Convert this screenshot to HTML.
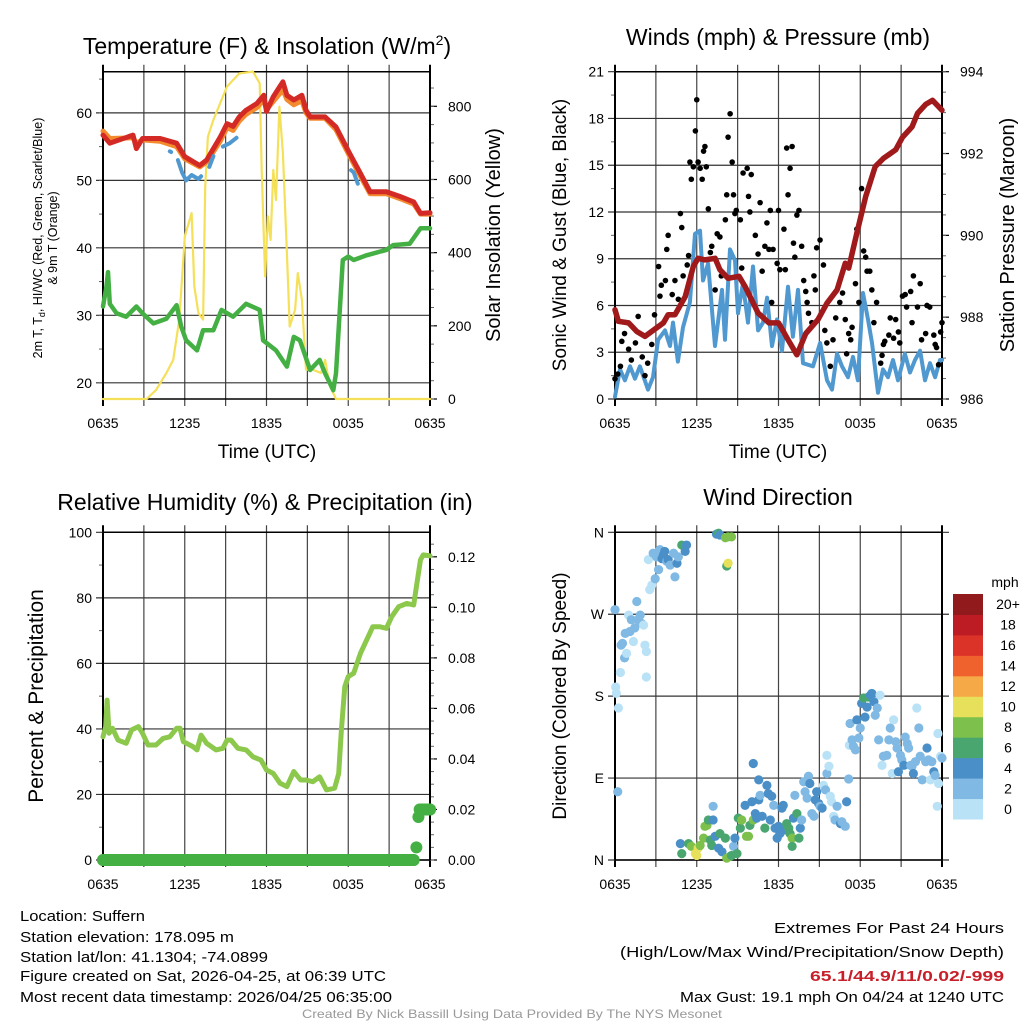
<!DOCTYPE html>
<html><head><meta charset="utf-8"><style>
html,body{margin:0;padding:0;background:#fff}
svg{display:block;font-family:"Liberation Sans",sans-serif}
</style></head><body>
<svg id="fig" width="1024" height="1024" viewBox="0 0 1024 1024" xmlns="http://www.w3.org/2000/svg">
<g id="g1"></g>
<g id="g2"></g>
<g id="g3"></g>
<g id="g4"></g>
<g id="foot">
<text x="20" y="921" font-size="15" textLength="125" lengthAdjust="spacingAndGlyphs">Location: Suffern</text>
<text x="20" y="942" font-size="15" textLength="214" lengthAdjust="spacingAndGlyphs">Station elevation: 178.095 m</text>
<text x="20" y="962" font-size="15" textLength="248" lengthAdjust="spacingAndGlyphs">Station lat/lon: 41.1304; -74.0899</text>
<text x="20" y="981" font-size="15" textLength="366" lengthAdjust="spacingAndGlyphs">Figure created on Sat, 2026-04-25, at 06:39 UTC</text>
<text x="20" y="1002" font-size="15" textLength="372" lengthAdjust="spacingAndGlyphs">Most recent data timestamp: 2026/04/25 06:35:00</text>
<text x="774" y="933" font-size="15" textLength="230" lengthAdjust="spacingAndGlyphs">Extremes For Past 24 Hours</text>
<text x="620" y="957" font-size="15" textLength="384" lengthAdjust="spacingAndGlyphs">(High/Low/Max Wind/Precipitation/Snow Depth)</text>
<text x="810" y="981" font-size="15" font-weight="bold" fill="#c8202a" textLength="194" lengthAdjust="spacingAndGlyphs">65.1/44.9/11/0.02/-999</text>
<text x="680" y="1002" font-size="15" textLength="324" lengthAdjust="spacingAndGlyphs">Max Gust: 19.1 mph On 04/24 at 1240 UTC</text>
<text x="302" y="1018" font-size="12" fill="#999" textLength="420" lengthAdjust="spacingAndGlyphs">Created By Nick Bassill Using Data Provided By The NYS Mesonet</text>
</g>
</svg>
<script>
// ---- data (hours since 0635 UTC) ----
const tempHours=[0,0.5,2.2,2.45,2.9,4.2,5.4,6,7.1,7.6,8.6,9.1,9.55,10,10.5,11.3,11.8,12,12.5,13.2,13.5,14,14.6,14.9,15.2,16.3,17.1,18.1,18.9,19.6,20.8,21.8,22.8,23.3,24];
const tempVals=[56.7,55.5,56.7,54.7,56.2,56.2,55.5,53.5,52.2,53,56.4,58.4,58,59.4,60.4,61.4,62.6,60.2,62.4,64.6,62.6,61.9,62.6,60.4,59.4,59.4,57.9,54,51,48.3,48.3,47.6,46.8,45.1,45.2];
const t9Vals=[57.3,56.2,56.3,55.5,56,55.8,55,53.2,52,52.7,55.8,57.8,57.4,58.8,59.8,60.8,61.9,60.5,61.7,63.4,62,61.2,61.8,60,59.2,59.2,57.5,53.6,50.6,48,48,47.3,46.5,45,45];
const hiHours=[4.9,5.0,null,5.5,5.8,6.1,6.5,7.0,7.2,null,7.8,8.1,null,8.8,9.3,9.8,null,18.2,18.4,18.7];
const hiVals=[54.3,54.2,null,53,51.2,50,50.8,50.2,50.6,null,52,53.6,null,55,55.5,56.3,null,51.5,51.2,49.5];
const dewHours=[0,0.25,0.37,0.5,1,1.7,2.45,2.9,3.7,4.65,5.4,5.75,6.1,6.9,7.35,8.1,8.7,9.55,10.5,11.5,11.75,12.7,13.5,14,14.45,15.2,15.9,16.3,16.9,17.1,17.6,18,18.4,19.35,20.8,21.3,22.5,23.3,24];
const dewVals=[31.3,34.2,36.4,31.7,30.3,29.8,31.3,30.3,28.8,29.5,31.5,28.3,26.3,24.8,27.8,27.8,30.8,29.8,31.7,30.8,26.3,24.8,22.4,26.8,26.3,21.9,23.4,21.4,18.9,21.4,38.2,38.7,38.2,38.9,39.7,40.4,40.6,42.9,42.9];
const solHours=[0,3.2,3.9,4.65,5.15,5.6,6,6.5,6.7,7,7.35,7.5,7.7,8.1,9.1,10,11,11.5,11.65,11.9,12.1,12.3,12.5,12.7,12.95,13.2,13.5,13.7,14.1,14.3,14.6,14.9,15.4,16,16.3,16.65,17.1,24];
const solVals=[0,0,25,71,107,217,444,508,308,235,217,580,717,763,854,890,895,863,626,335,499,435,626,544,799,672,399,198,244,344,271,80,80,71,107,35,0,0];
const presHours=[0,0.25,1,1.6,2.2,2.9,3.55,3.9,4.4,5.15,5.75,6.1,6.6,7.35,7.7,8.3,9.1,9.55,10.5,11.3,12,12.7,13.35,14,14.9,15.55,16.3,16.9,17.15,17.75,18.4,19.1,19.7,20.6,21.1,21.8,22.2,22.8,23.3,24];
const presVals=[988.18,987.9,987.86,987.65,987.53,987.7,987.86,988.06,988.06,988.5,989.24,989.44,989.4,989.44,989.16,988.95,989,988.75,988.1,987.86,987.86,987.45,987.08,987.6,987.94,988.34,988.67,989.32,989.2,990.05,990.95,991.68,991.88,992.09,992.4,992.65,992.98,993.2,993.3,993.06];
const windHours=[0,0.37,0.73,1.1,1.47,1.83,2.42,2.79,3.16,3.67,4.04,4.26,4.62,4.99,5.5,5.87,6.24,6.46,6.83,7.34,7.85,8.07,8.44,8.81,9.03,9.39,9.76,10.13,10.5,10.86,11.16,11.52,11.89,12.26,12.7,13.06,13.43,13.8,14.53,15.05,15.56,15.93,16.29,16.66,17.1,17.47,17.83,18.2,18.57,18.86,19.3,19.67,20.04,20.4,20.77,21.28,21.65,22.02,22.39,22.75,23.12,23.49,23.85,24];
const windVals=[0.15,1.9,1.2,2.1,1.3,2.1,0.6,1.4,3.8,4.4,3.4,4.9,2.4,4.6,6.2,10.6,10.8,7.6,8.7,3.4,7,3.8,9.6,8.9,5.5,7.4,4.9,8.5,4.4,4.9,6.5,3.4,5.1,3.1,7.2,4,7,2.3,2.1,3.6,1.2,0.6,2.9,2.1,1.4,2.7,1.2,6.8,5.1,3.6,0.4,1.9,1.4,2.5,1.2,2.9,1.7,2.5,3.1,1.2,2.3,1.4,2.5,2.5];
const gustHours=[0,0.2,0.4,0.5,0.7,1,1.2,1.5,1.7,2,2.2,2.4,2.7,2.9,3.2,3.3,3.4,3.7,3.8,3.9,4.2,4.4,4.65,4.8,4.9,5,5.3,5.4,5.5,5.6,5.75,5.9,6,6.1,6.25,6.4,6.5,6.6,6.7,6.85,7,7.1,7.35,7.5,7.7,7.8,8.1,8.2,8.3,8.45,8.6,8.7,8.8,8.9,9.2,9.3,9.4,9.7,9.8,9.9,10,10.3,10.5,10.65,10.8,11,11.15,11.3,11.4,11.5,11.6,11.9,12,12.1,12.4,12.5,12.6,12.7,12.85,13,13.1,13.2,13.35,13.5,13.7,13.85,14,14.1,14.2,14.45,14.6,14.7,14.8,15.05,15.3,15.4,15.55,15.8,16,16.2,16.5,16.7,16.9,17,17.15,17.3,17.4,17.65,17.75,17.9,18.1,18.25,18.4,18.5,18.7,18.85,19,19.2,19.5,19.6,19.7,19.8,20.1,20.2,20.45,20.6,20.8,20.9,21.1,21.3,21.4,21.7,21.8,21.9,22.2,22.4,22.5,22.8,22.9,23.1,23.4,23.5,23.6,23.75,23.9,24];
const gustVals=[1.3,1.6,2.1,3.7,4.2,3.2,2.5,3.6,5.3,2.7,1.5,2.3,3.5,5.4,8.5,6.6,7.3,7.6,9.6,10.5,6.7,7.6,6.4,11.9,11,7.9,8.6,9.2,15.2,14.1,14.9,17.2,19.2,15.2,14.8,14.1,15.9,16.2,14.9,12.2,9.4,9.8,7,10.6,10.4,7.9,11.5,13.1,16.8,18.3,15.2,13.1,11.9,12.1,11.5,8.4,14.5,14.8,13,12,14.4,10.5,9.3,12.6,8.2,9.8,11.3,9.6,12.1,6.2,9.6,8.7,12.1,8.3,10.9,8.3,16.1,13.1,14.8,16.2,10,9.1,11.8,12.1,9.8,7.6,6.9,6.2,5.5,4.9,7.9,7,9.7,10.2,8.6,4.4,3.6,2.1,3.8,5.2,6.2,6.8,5.1,2.9,4.2,3.8,4.6,7.4,10.9,6.2,13.5,9.5,9.1,8.2,8.2,7,4.9,6.2,2.3,2.8,3.5,3.7,4.1,5.2,3.9,5.1,4.3,3.6,6.6,6.7,5.9,6.9,4.9,7.9,5.9,7.4,3.8,4.2,6,5.9,4.1,3.5,3.3,2.2,4.3,4.9];
const rhHours=[0,0.2,0.3,0.45,0.7,1.1,1.7,2.1,2.6,2.9,3.3,3.9,4.4,4.9,5.4,5.65,5.9,6.6,6.9,7.2,7.6,8.3,8.8,9.1,9.4,9.9,10.5,11,11.6,12,12.5,13,13.5,14,14.5,14.9,15.4,15.9,16.4,17,17.3,17.5,17.75,18,18.4,18.9,19.35,19.8,20.3,20.8,21.2,21.7,22.3,22.8,23,23.3,23.5,24];
const rhVals=[37.6,40.7,48.8,38.7,40.2,36.6,35.6,39.7,40.7,38.7,35.1,35.1,37.1,37.6,40.2,40.2,36.1,34.6,33.6,38.1,35.6,33.6,34.1,36.6,36.6,34.1,33.6,31.5,30.5,27.5,26.4,23.4,22.4,27,24.4,24.4,23.9,25.4,21.4,21.9,26.4,39.7,52.9,56,57,63.1,67.1,71.2,71.2,70.7,74.3,77.3,78.3,77.8,83.4,91.6,93.1,92.8];
const precipHours=[0,1.5,3,4.5,6,7.5,9,10.5,12,13.5,15,16.5,18,19.5,21,22.5,22.8,23.0,23.15,23.25,23.6,24];
const precipVals=[0,0,0,0,0,0,0,0,0,0,0,0,0,0,0,0,0,0.005,0.017,0.02,0.02,0.02];
const dirHours=[0,0.05,0.1,0.25,0.2,0.4,0.45,0.55,0.7,0.75,0.85,1.0,1.1,1.2,1.35,1.45,1.6,1.7,1.85,1.95,2.1,2.2,2.3,2.3,2.45,2.55,2.7,2.8,2.95,3.05,3.2,3.3,3.45,3.55,3.65,3.8,3.9,4.05,4.3,4.4,4.55,4.65,4.9,5.15,5.25,
7.45,7.6,7.7,8.1,8.3,8.55,8.2,8.3,
4.8,4.9,5.4,5.6,5.9,6.0,6.1,6.25,6.5,6.6,6.75,6.85,7.0,7.1,7.2,7.2,7.35,7.6,7.7,7.85,8.1,8.2,8.45,8.55,8.7,8.8,8.95,9.05,9.2,9.3,9.55,9.65,9.8,9.9,10.05,10.15,10.3,10.4,10.55,10.65,10.55,10.15,10.8,11.0,11.15,11.25,11.4,11.5,11.65,11.75,11.9,12.0,12.1,12.25,12.35,12.5,12.6,12.75,12.85,13.0,13.0,13.1,13.2,13.35,13.5,13.6,13.7,13.85,13.95,14.1,14.2,14.3,14.45,14.6,14.7,14.8,14.95,15.05,15.2,15.3,15.45,15.55,15.55,15.7,15.8,15.9,16.05,16.15,16.3,16.55,16.65,16.9,17.0,17.15,17.2,17.25,17.4,17.5,17.65,17.75,17.9,18.0,18.1,18.25,18.35,18.5,18.6,18.75,18.85,19.0,19.1,19.25,19.35,19.45,19.6,19.7,19.95,20.1,20.2,20.35,20.45,20.6,20.7,20.8,20.95,21.05,21.2,21.3,21.45,21.55,21.7,21.8,21.9,22.05,22.15,22.3,22.4,22.55,22.8,22.9,23.0,23.15,23.25,23.4,23.5,23.65,23.7,23.75,23.9,24];
const dirDegs=[275,190,183,167,75,206,236,238,222,249,227,269,251,264,240,255,284,264,269,260,258,236,229,201,330,297,302,337,309,333,319,341,331,335,339,328,330,324,337,311,326,333,346,339,346,
358,359,357,354,355,355,323,326,
18,7,18,15,7,5,13,16,24,37,38,44,22,16,44,59,26,13,29,9,24,2,4,5,15,24,7,46,35,44,60,26,26,38,64,44,51,46,66,71,88,106,48,35,82,73,44,70,60,35,24,37,29,57,60,33,40,35,29,24,15,46,71,51,24,35,44,86,75,68,92,84,51,48,66,75,62,59,57,82,77,95,115,103,70,64,48,44,59,40,42,37,64,89,126,150,132,125,121,154,134,145,172,178,157,168,179,181,183,174,159,167,132,181,104,114,115,132,145,95,154,130,123,97,115,110,104,135,128,123,104,103,95,108,167,145,114,88,108,123,110,88,108,97,93,59,139,84,114,112];
const dirSpeeds=[2,1,1,1,2,1,3,3,3,3,1,1,2,3,1,3,3,3,2,2,1,1,1,1,1,1,1,3,3,3,3,2,4,4,4,3,4,3,2,3,4,3,6,4,4,
4,6,4,8,8,8,6,10,
4,6,6,8,10,10,10,8,8,8,8,6,6,6,4,3,4,4,6,4,6,8,8,6,3,4,6,6,6,8,4,8,8,6,4,8,4,4,4,3,4,4,4,6,4,4,4,4,3,4,4,4,4,4,4,4,6,6,6,8,6,4,3,6,6,4,3,3,3,3,3,4,3,3,4,4,4,3,4,1,2,3,1,1,1,1,1,3,3,4,3,3,4,3,1,3,3,3,2,4,3,2,4,6,4,4,6,4,4,4,3,3,2,1,1,2,3,3,3,1,1,3,3,4,3,3,4,3,3,3,3,2,4,3,1,3,3,2,3,4,3,1,3,4,3,1,1,1,1,3];
const speedColors=["#b9e2f6","#80b9e3","#4a8fc7","#4aa66f","#7dc04b","#e6e05a","#f6a947","#f0622d","#dc3329","#bd1c25","#911a1d"];
const speedLabels=["0","2","4","6","8","10","12","14","16","18","20+"];
const timeLabels=["0635","1235","1835","0035","0635"];

const NS="http://www.w3.org/2000/svg";
function mk(parent,tag,attrs,text){const e=document.createElementNS(NS,tag);for(const k in attrs)e.setAttribute(k,attrs[k]);if(text!==undefined)e.textContent=text;parent.appendChild(e);return e;}

function makePanel(g,cfg){
  const X=h=>cfg.x0+(cfg.x1-cfg.x0)*h/24;
  const YL=v=>cfg.y1-(cfg.y1-cfg.y0)*(v-cfg.lmin)/(cfg.lmax-cfg.lmin);
  const YR=cfg.rmin!==undefined?(v=>cfg.y1-(cfg.y1-cfg.y0)*(v-cfg.rmin)/(cfg.rmax-cfg.rmin)):null;
  for(let h=0;h<=24;h+=3){
    const l=mk(g,'line',{x1:X(h),x2:X(h),y1:cfg.y0-7,y2:cfg.y1+7,stroke:(h===0||h===24)?'#000':'#444','stroke-width':(h===0||h===24)?2:1.2});
    
    
  }
  cfg.lticks.forEach((v,i)=>{
    const y=YL(v);
    const l=mk(g,'line',{x1:cfg.x0-7,x2:cfg.rmin!==undefined?cfg.x1:cfg.x1+7,y1:y,y2:y,stroke:'#333','stroke-width':1.2});
    
    
    const t=mk(g,'text',{x:cfg.x0-11,y:y+5,'text-anchor':'end','font-size':14},cfg.llabels?cfg.llabels[i]:String(v));
    
    
  });
  if(cfg.lminor){for(let v=cfg.lminor[0];v<=cfg.lmax+1e-9;v+=cfg.lminor[1]){mk(g,'line',{x1:cfg.x0-4,x2:cfg.x0,y1:YL(v),y2:YL(v),stroke:'#666','stroke-width':1});}}
  if(YR){
    cfg.rticks.forEach((v,i)=>{
      const y=YR(v);
      mk(g,'line',{x1:cfg.x1,x2:cfg.x1+7,y1:y,y2:y,stroke:'#000','stroke-width':1.2});
      const t=mk(g,'text',{x:cfg.x1+18,y:y+5,'font-size':14},cfg.rlabels[i]);
      
      
    });
    for(let v=cfg.rmin;v<=cfg.rmax+1e-9;v+=cfg.rminor){mk(g,'line',{x1:cfg.x1,x2:cfg.x1+4,y1:YR(v),y2:YR(v),stroke:'#666','stroke-width':1});}
  }
  mk(g,'line',{x1:cfg.x0,x2:cfg.x1,y1:cfg.y0,y2:cfg.y0,stroke:'#000','stroke-width':1.5});
  mk(g,'line',{x1:cfg.x0,x2:cfg.x0,y1:cfg.y0,y2:cfg.y1,stroke:'#000','stroke-width':2});
  mk(g,'line',{x1:cfg.x1,x2:cfg.x1,y1:cfg.y0,y2:cfg.y1,stroke:'#000','stroke-width':2});
  mk(g,'line',{x1:cfg.x0,x2:cfg.x1,y1:cfg.y1,y2:cfg.y1,stroke:'#000','stroke-width':1.5});
  timeLabels.forEach((s,i)=>{
    const t=mk(g,'text',{x:X(i*6),y:cfg.y1+29,'text-anchor':'middle','font-size':14},s);
    
    
  });
  return {X,YL,YR};
}
function pathD(xs,ys,X,Y){let d='',pen=false;for(let i=0;i<xs.length;i++){if(xs[i]===null||ys[i]===null){pen=false;continue;}d+=(pen?'L':'M')+X(xs[i]).toFixed(1)+','+Y(ys[i]).toFixed(1);pen=true;}return d;}
function line(g,xs,ys,X,Y,color,w,name){
  const p=mk(g,'path',{d:pathD(xs,ys,X,Y),fill:'none',stroke:color,'stroke-width':w,'stroke-linejoin':'round','stroke-linecap':'round'});
  
  
  return p;
}
function txt(g,attrs,s,name){const t=mk(g,'text',attrs,s);return t;}

// Panel 1
const g1=document.getElementById('g1');
const p1=makePanel(g1,{x0:103,x1:430,y0:71.7,y1:399,lmin:17.6,lmax:66.1,lticks:[20,30,40,50,60],lminor:[20,5],rmin:0,rmax:894.6,rticks:[0,200,400,600,800],rlabels:["0","200","400","600","800"],rminor:50});
line(g1,solHours,solVals,p1.X,p1.YR,'#f5e05a',2.2,'solar-insolation-line');
line(g1,dewHours,dewVals,p1.X,p1.YL,'#44b044',4.5,'dewpoint-line');
line(g1,tempHours,t9Vals,p1.X,p1.YL,'#f38a2d',5,'temp-9m-line');
line(g1,tempHours,tempVals,p1.X,p1.YL,'#d42a25',5,'temp-2m-line');
line(g1,hiHours,hiVals,p1.X,p1.YL,'#4f98d0',4,'heat-index-line');
txt(g1,{x:267,y:54,'text-anchor':'middle','font-size':23},'','panel1-title').innerHTML='Temperature (F) &amp; Insolation (W/m<tspan dy="-9" font-size="14">2</tspan><tspan dy="9">)</tspan>';
txt(g1,{x:267,y:458,'text-anchor':'middle','font-size':19},'Time (UTC)','x-axis-title');
txt(g1,{transform:'translate(42,238) rotate(-90)','text-anchor':'middle','font-size':12.5},'','y-axis-title-line1').innerHTML='2m T, T<tspan dy="3" font-size="9">d</tspan><tspan dy="-3">, HI/WC (Red, Green, Scarlet/Blue)</tspan>';
txt(g1,{transform:'translate(57,238) rotate(-90)','text-anchor':'middle','font-size':12.5},'& 9m T (Orange)','y-axis-title-line2');
txt(g1,{transform:'translate(500,235) rotate(-90)','text-anchor':'middle','font-size':20},'Solar Insolation (Yellow)','right-axis-title');

// Panel 2
const g2=document.getElementById('g2');
const p2=makePanel(g2,{x0:615,x1:942,y0:71.7,y1:399,lmin:0,lmax:21,lticks:[0,3,6,9,12,15,18,21],lminor:[1.5,3],rmin:986,rmax:994,rticks:[986,988,990,992,994],rlabels:["986","988","990","992","994"],rminor:0.5});
line(g2,windHours,windVals,p2.X,p2.YL,'#4f98d0',4,'sonic-wind-line');
gustHours.forEach((h,i)=>{
  const c=mk(g2,'circle',{cx:p2.X(h),cy:p2.YL(gustVals[i]),r:2.8,fill:'#000'});
  
  
});
line(g2,presHours,presVals,p2.X,p2.YR,'#a01a1c',5.5,'pressure-line');
txt(g2,{x:778,y:45,'text-anchor':'middle','font-size':23},'Winds (mph) & Pressure (mb)','panel2-title');
txt(g2,{x:778,y:458,'text-anchor':'middle','font-size':19},'Time (UTC)','x-axis-title');
txt(g2,{transform:'translate(566,235) rotate(-90)','text-anchor':'middle','font-size':19},'Sonic Wind & Gust (Blue, Black)','y-axis-title');
txt(g2,{transform:'translate(1014,235) rotate(-90)','text-anchor':'middle','font-size':20},'Station Pressure (Maroon)','right-axis-title');

// Panel 3
const g3=document.getElementById('g3');
const p3=makePanel(g3,{x0:103,x1:430,y0:532.3,y1:860,lmin:0,lmax:100,lticks:[0,20,40,60,80,100],lminor:[10,20],rmin:0,rmax:0.1297,rticks:[0,0.02,0.04,0.06,0.08,0.1,0.12],rlabels:["0.00","0.02","0.04","0.06","0.08","0.10","0.12"],rminor:0.005});
line(g3,rhHours,rhVals,p3.X,p3.YL,'#8cc84b',5,'humidity-line');
for(let i=0;i<precipHours.length-1;i++){
  if(precipVals[i]===precipVals[i+1]){
    const l=mk(g3,'line',{x1:p3.X(precipHours[i]),x2:p3.X(precipHours[i+1]),y1:p3.YR(precipVals[i]),y2:p3.YR(precipVals[i]),stroke:'#44b044','stroke-width':12,'stroke-linecap':'round'});
    
    
  }
}
precipHours.forEach((h,i)=>{
  const c=mk(g3,'circle',{cx:p3.X(h),cy:p3.YR(precipVals[i]),r:6,fill:'#44b044'});
  
  
});
txt(g3,{x:265,y:510,'text-anchor':'middle','font-size':23},'Relative Humidity (%) & Precipitation (in)','panel3-title');
txt(g3,{transform:'translate(43,696) rotate(-90)','text-anchor':'middle','font-size':21},'Percent & Precipitation','y-axis-title');

// Panel 4
const g4=document.getElementById('g4');
const p4=makePanel(g4,{x0:615,x1:942,y0:532.3,y1:860,lmin:0,lmax:360,lticks:[0,90,180,270,360],llabels:["N","E","S","W","N"]});
dirHours.forEach((h,i)=>{
  const bin=Math.min(10,Math.floor(dirSpeeds[i]/2));
  const c=mk(g4,'circle',{cx:p4.X(h),cy:p4.YL(dirDegs[i]),r:4.6,fill:speedColors[bin]});
  
  
});
txt(g4,{x:778,y:505,'text-anchor':'middle','font-size':23},'Wind Direction','panel4-title');
txt(g4,{transform:'translate(566,696) rotate(-90)','text-anchor':'middle','font-size':19},'Direction (Colored By Speed)','y-axis-title');
txt(g4,{x:1005,y:587,'text-anchor':'middle','font-size':14},'mph','colorbar-title');
const cbTop=594,cbBot=819,cbH=(cbBot-cbTop)/speedColors.length;
speedColors.forEach((c,i)=>{
  const y=cbBot-(i+1)*cbH;
  const r=mk(g4,'rect',{x:953,y:y,width:30,height:cbH+0.5,fill:c});
  
  
  txt(g4,{x:1008,y:y+cbH/2+5,'text-anchor':'middle','font-size':14},speedLabels[i],'colorbar-label');
});
</script>
</body></html>
